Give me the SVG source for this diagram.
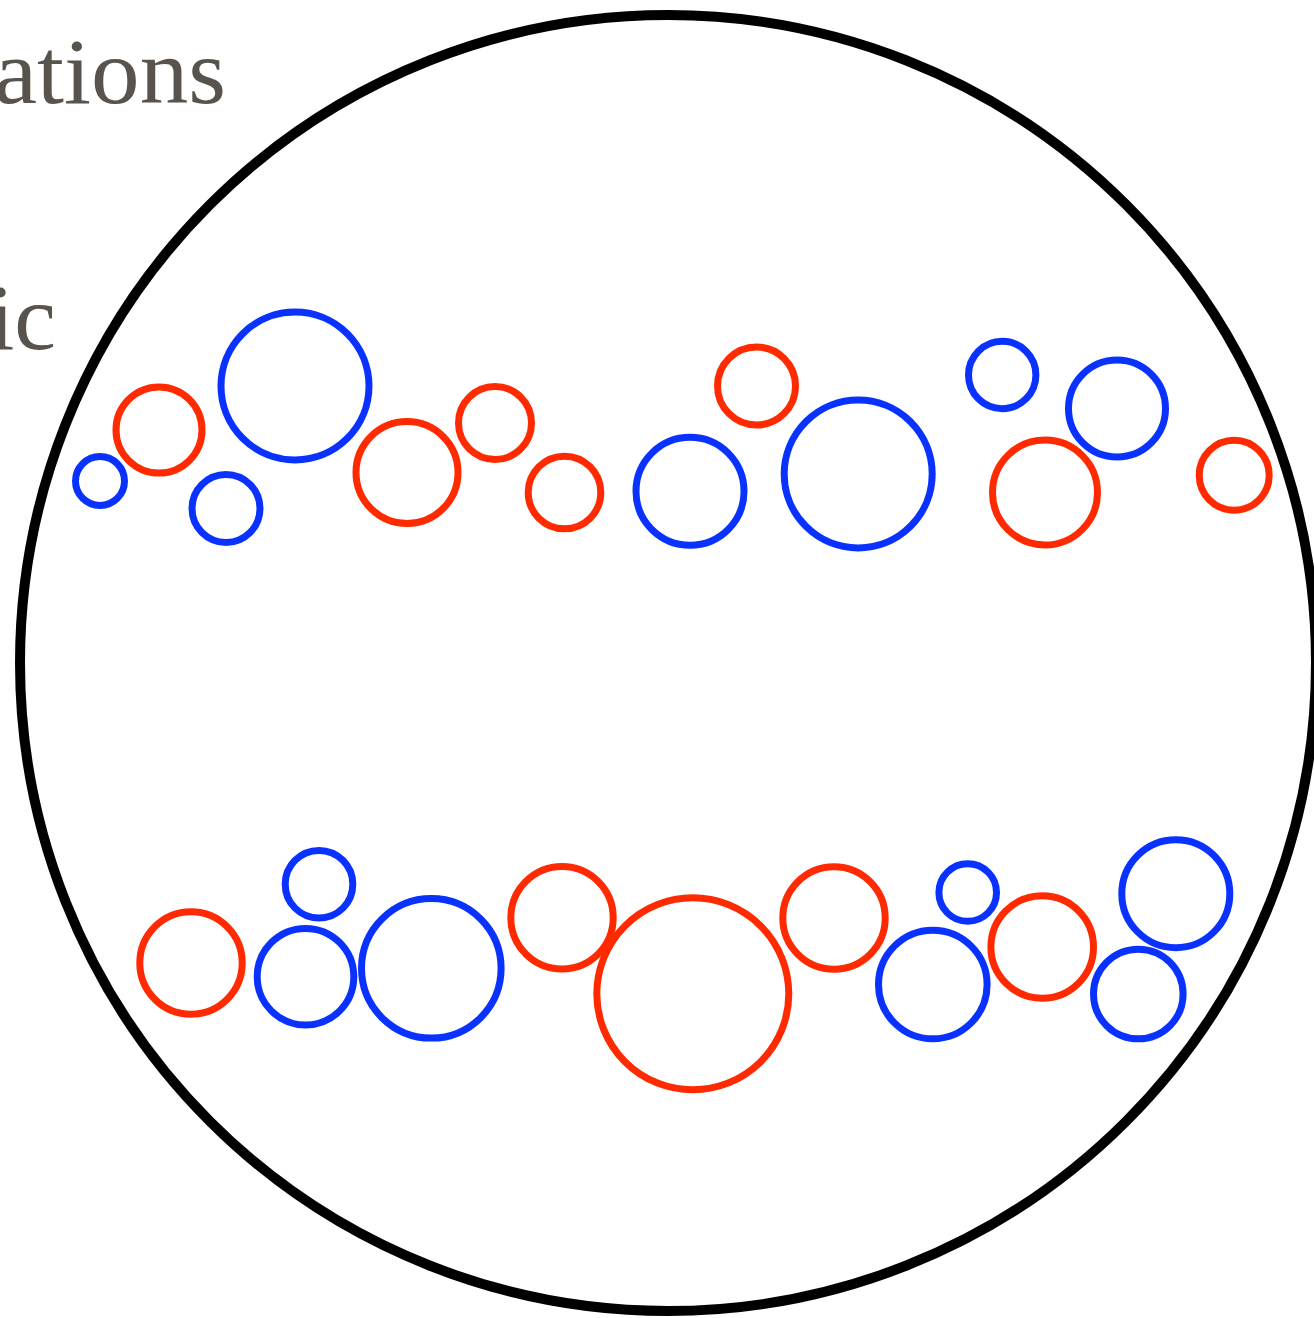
<svg xmlns="http://www.w3.org/2000/svg" width="1314" height="1318" viewBox="0 0 1314 1318">
<style>
.t{font-family:"Liberation Serif","DejaVu Serif",serif;font-size:94px;fill:#59534d}
.b{fill:none;stroke:#0a32ff;stroke-width:7}
.r{fill:none;stroke:#ff2a00;stroke-width:7}
</style>
<rect width="1314" height="1318" fill="#fff"/>
<text class="t" x="-6" y="103" textLength="232" lengthAdjust="spacingAndGlyphs">ations</text>
<text class="t" x="56" y="349" text-anchor="end">ic</text>
<g id="boundary"><circle cx="668" cy="663" r="648" fill="none" stroke="#000" stroke-width="10"/></g>
<g id="top-row">
<circle id="t1" class="b" cx="100" cy="481" r="24.5"/>
<circle id="t2" class="r" cx="159" cy="430" r="43"/>
<circle id="t3" class="b" cx="295" cy="386" r="74"/>
<circle id="t4" class="b" cx="226" cy="508.5" r="34"/>
<circle id="t5" class="r" cx="407" cy="472.5" r="51"/>
<circle id="t6" class="r" cx="495" cy="423" r="36.5"/>
<circle id="t7" class="r" cx="564.5" cy="492.5" r="36.3"/>
<circle id="t8" class="b" cx="690" cy="491.3" r="54"/>
<circle id="t9" class="r" cx="756.5" cy="386" r="39"/>
<circle id="t10" class="b" cx="858.2" cy="474" r="74"/>
<circle id="t11" class="b" cx="1002.2" cy="375" r="33.7"/>
<circle id="t12" class="b" cx="1117" cy="408.5" r="48.5"/>
<circle id="t13" class="r" cx="1045" cy="492.5" r="52.5"/>
<circle id="t14" class="r" cx="1234.2" cy="475.2" r="35"/>
</g>
<g id="bottom-row">
<circle id="b1" class="r" cx="191" cy="963" r="51.2"/>
<circle id="b2" class="b" cx="319" cy="884.2" r="33.8"/>
<circle id="b3" class="b" cx="305.5" cy="976.7" r="48.3"/>
<circle id="b4" class="b" cx="431.3" cy="968.3" r="69.8"/>
<circle id="b5" class="r" cx="562" cy="917.8" r="51.2"/>
<circle id="b6" class="r" cx="692.8" cy="993.8" r="96"/>
<circle id="b7" class="r" cx="834" cy="918" r="51.2"/>
<circle id="b8" class="b" cx="967.7" cy="892.5" r="28.8"/>
<circle id="b9" class="b" cx="932.8" cy="984.5" r="54.3"/>
<circle id="b10" class="r" cx="1042.2" cy="947" r="51.3"/>
<circle id="b11" class="b" cx="1175.8" cy="893.7" r="54"/>
<circle id="b12" class="b" cx="1138.3" cy="994" r="44.8"/>
</g>
<g id="connectors"/>
</svg>
